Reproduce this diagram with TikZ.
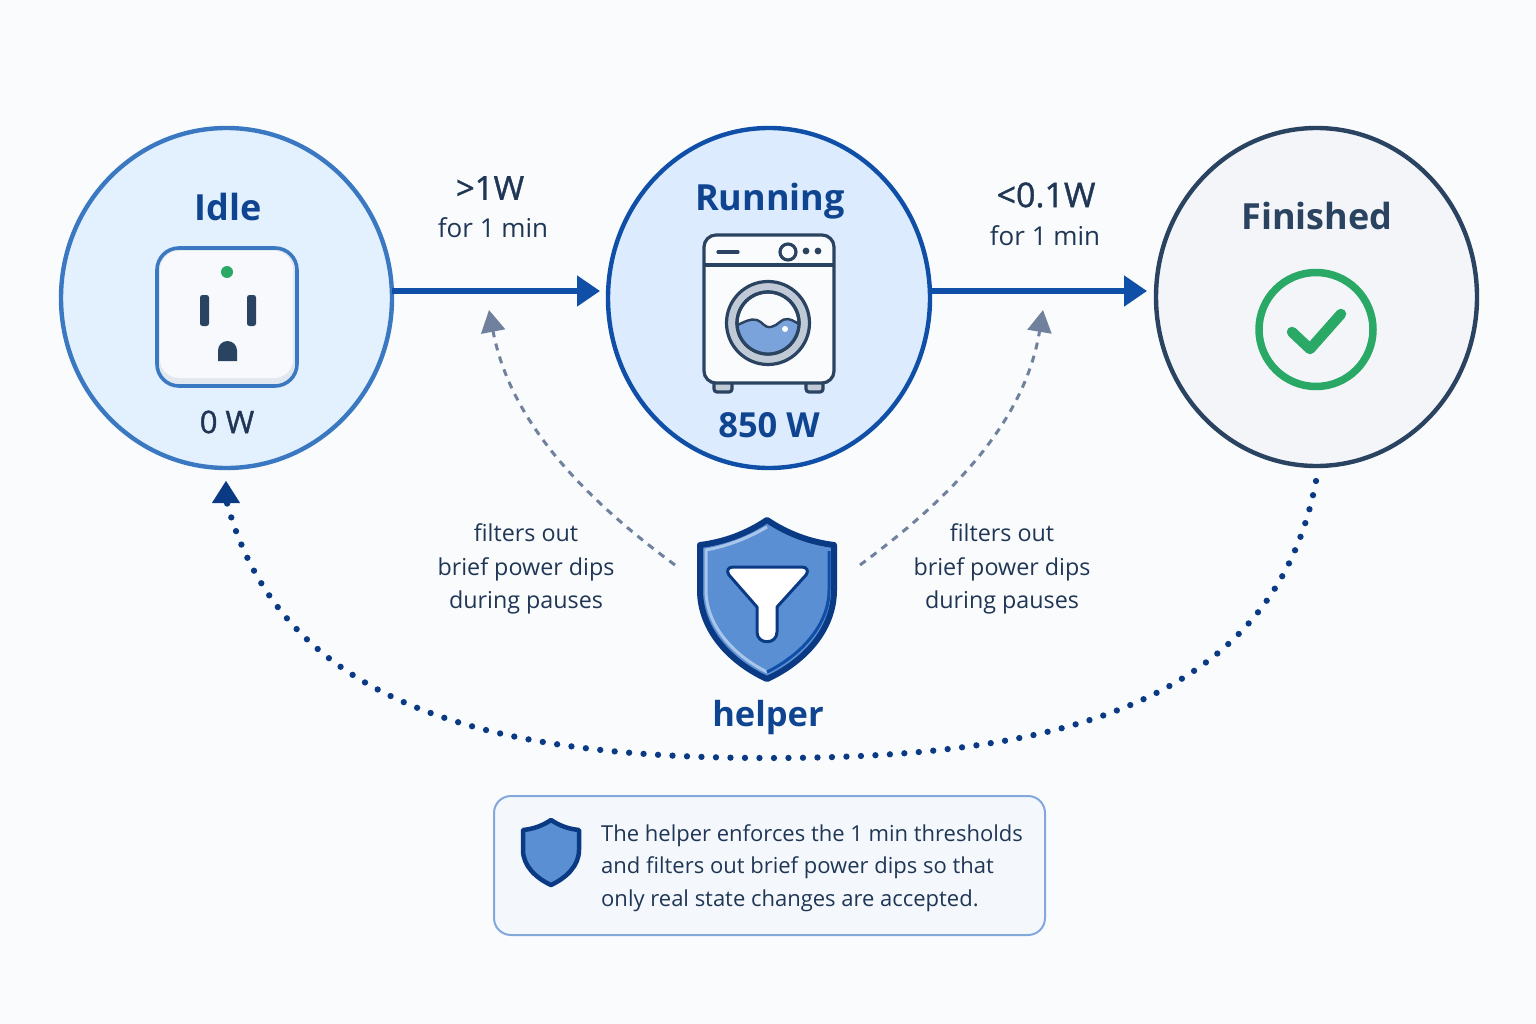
\documentclass[tikz,border=0pt]{standalone}
\usepackage{fontspec}
\setmainfont{Open Sans}
\newfontfamily\medfont{Open Sans}[FakeBold=1.2]
\usetikzlibrary{arrows.meta,shapes.geometric}
\definecolor{bg}{HTML}{FAFBFD}
\definecolor{navy}{HTML}{0F4590}
\definecolor{deep}{HTML}{0B3A85}
\definecolor{flow}{HTML}{0F4FA8}
\definecolor{slate}{HTML}{2A4360}
\definecolor{ink}{HTML}{1F3655}
\definecolor{mid}{HTML}{3B78C2}
\definecolor{grey}{HTML}{6F819C}
\definecolor{shieldfill}{HTML}{5A8FD3}
\definecolor{shieldlight}{HTML}{A9C6EA}
\definecolor{okgreen}{HTML}{2AA866}
\definecolor{idlefill}{HTML}{E3F0FE}
\definecolor{runfill}{HTML}{DCEBFD}
\definecolor{finfill}{HTML}{F3F5F9}
\definecolor{plugshade}{HTML}{E2E8F0}
\definecolor{plugface}{HTML}{F7F9FC}
\definecolor{ringgrey}{HTML}{C0CAD6}
\definecolor{machine}{HTML}{FAFBFD}
\definecolor{water}{HTML}{7AA3DB}
\definecolor{notefill}{HTML}{F4F7FC}
\definecolor{noteline}{HTML}{83A8DC}
\tikzset{
  state/.style={ellipse,draw,line width=4.4pt,outer sep=0pt,inner sep=0pt},
  flowarrow/.style={line width=5pt,draw=flow,-{Triangle[length=23pt,width=30pt]},shorten >=8pt},
  dip/.style={line width=3pt,draw=grey,dash pattern=on 7pt off 6.5pt,-{Triangle[length=22pt,width=24pt]}},
  loopback/.style={line width=6.3pt,draw=deep,line cap=round,dash pattern=on 0pt off 14.5pt},
  lab/.style={text=ink,font=\fontsize{23.3}{33.5}\selectfont,align=center,inner sep=0pt},
  head/.style={font=\bfseries\fontsize{36}{40}\selectfont,inner sep=0pt},
  icon/.style={line width=3.2pt,draw=slate,line join=round}
}
\begin{document}
\begin{tikzpicture}[x=1pt,y=-1pt]
\useasboundingbox (0,0) rectangle (1536,1024);
\fill[bg] (0,0) rectangle (1536,1024);

% states
\node[state,draw=mid,fill=idlefill,minimum width=331pt,minimum height=340pt] (idle) at (226.5,298) {};
\node[state,draw=flow,fill=runfill,minimum width=322pt,minimum height=340pt] (running) at (769,298) {};
\node[state,draw=slate,fill=finfill,minimum width=321pt,minimum height=338pt] (finished) at (1316.5,297) {};

% flow arrows
\coordinate (level) at (0,291);
\draw[flowarrow] (idle.east |- level) -- (running.west |- level);
\draw[flowarrow,shorten >=9pt] (running.east |- level) -- (finished.west |- level);

% plug
\draw[mid,line width=3.6pt,fill=plugshade,rounded corners=22pt] (157,248) rectangle (297,386);
\fill[plugface,rounded corners=19pt] (160,251) rectangle (293,378);
\fill[okgreen] (227,272) circle (6);
\fill[slate,rounded corners=2.5pt] (200,295) rectangle (209,326);
\fill[slate,rounded corners=2.5pt] (247,295) rectangle (256,326);
\fill[slate] (218,361) -- (218,350.5) arc[start angle=180,end angle=360,radius=9.5] -- (237,361) -- cycle;

% washer
\draw[icon,fill=ringgrey,rounded corners=3pt] (714,380) rectangle (732,392);
\draw[icon,fill=ringgrey,rounded corners=3pt] (806,380) rectangle (823,392);
\draw[icon,fill=machine,rounded corners=12pt] (704,235) rectangle (834,383);
\draw[icon] (704,265) -- (834,265);
\draw[icon,line cap=round] (718,252) -- (738,252);
\draw[icon,fill=machine] (788,252) circle (8);
\fill[slate] (806,251) circle (3.4);
\fill[slate] (818,251) circle (3.4);
\draw[icon,fill=ringgrey] (768,323) circle (41.5);
\draw[icon,fill=machine] (768,323) circle (31);
\begin{scope}
\clip (768,323) circle (30);
\fill[water] (735,326) .. controls (745,322) and (750,318) .. (757,320) .. controls (763,322) and (764,328) .. (771,327) .. controls (778,326) and (781,318) .. (788,319) .. controls (794,320) and (797,324) .. (802,325) -- (802,358) -- (735,358) -- cycle;
\draw[slate,line width=2.4pt] (735,326) .. controls (745,322) and (750,318) .. (757,320) .. controls (763,322) and (764,328) .. (771,327) .. controls (778,326) and (781,318) .. (788,319) .. controls (794,320) and (797,324) .. (802,325);
\end{scope}
\draw[icon] (768,323) circle (31);
\fill[white] (785,329) circle (3);

% check
\draw[okgreen,line width=7.5pt] (1316,329.5) circle (57);
\draw[okgreen,line width=10.5pt,line cap=round,line join=round] (1292,332) -- (1310,349) -- (1341,314);

% helper shield
\node[inner sep=0pt,outer sep=0pt,minimum width=140pt,minimum height=164pt] (shield) at (767,600) {};
\draw[deep,line width=6pt,line join=round,fill=shieldfill] (767,520) .. controls (746,534) and (724,542) .. (700,545) -- (700,590) .. controls (700,630) and (730,662) .. (767,679) .. controls (804,662) and (834,630) .. (834,590) -- (834,545) .. controls (810,542) and (788,534) .. (767,520) -- cycle;
\draw[shieldlight,line width=3pt] (767,527) .. controls (748,538) and (728,546) .. (706,550) -- (706,590) .. controls (706,625) and (733,655) .. (767,672);
\draw[flow,line width=3pt] (767,672) .. controls (801,655) and (829,625) .. (829,590) -- (829,551);
\draw[deep,line width=3pt,fill=white,line join=round] (733,567) -- (802,567) .. controls (807,567) and (809,571) .. (806,575) -- (777,607) -- (777,632) .. controls (777,645) and (757,645) .. (757,632) -- (757,607) -- (729,575) .. controls (726,571) and (728,567) .. (733,567) -- cycle;

% dashed arrows
\coordinate (dipL) at (675,565);
\coordinate (tipL) at (489,310);
\coordinate (dipR) at (860,565);
\coordinate (tipR) at (1043,310);
\draw[dip] (dipL) .. controls (580,495) and (510,420) .. (tipL);
\draw[dip] (dipR) .. controls (955,495) and (1025,420) .. (tipR);

% loop back
\coordinate (loopStart) at (1316,481);
\coordinate (loopEnd) at (227,503);
\coordinate (loopTip) at (226,481);
\coordinate (loopBase) at (226,503);
\draw[loopback] (loopStart) .. controls (1272,712) and (1040,758) .. (770,758) .. controls (510,758) and (285,715) .. (loopEnd);
\draw[deep,line width=0.1pt,{Triangle[length=22pt,width=28pt]}-] (loopTip) -- (loopBase);

% box
\draw[line width=2pt,draw=noteline,fill=notefill,rounded corners=17pt] (494,796) rectangle (1045,935);
\draw[deep,line width=4.5pt,line join=round,fill=shieldfill] (551,820) .. controls (542,826) and (533,829) .. (523,830) -- (523,850) .. controls (523,866) and (536,878) .. (551,885) .. controls (566,878) and (579,866) .. (579,850) -- (579,830) .. controls (569,829) and (560,826) .. (551,820) -- cycle;

% texts
\node[head,text=navy] (tIdle) at (228,207) {Idle};
\node[head,text=navy] (tRun) at (770,201) {Running};
\node[head,text=slate] (tFin) at (1317,216) {Finished};
\node[lab,font=\medfont\fontsize{31}{36}\selectfont] (tZero) at (227,422) {0 W};
\node[lab,text=navy,font=\bfseries\fontsize{34.5}{38}\selectfont] (tWatt) at (769,425) {850 W};
\node[lab,font=\medfont\fontsize{33}{36}\selectfont] (tA) at (490,188) {>1W};
\node[lab,font=\fontsize{26}{30}\selectfont] (tAb) at (493,228) {for 1 min};
\node[lab,font=\medfont\fontsize{34}{36}\selectfont] (tB) at (1046,195) {<0.1W};
\node[lab,font=\fontsize{26}{30}\selectfont] (tBb) at (1045,236) {for 1 min};
\node[lab] (fL) at (526,569) {filters out\\brief power dips\\during pauses};
\node[lab] (fR) at (1002,569) {filters out\\brief power dips\\during pauses};
\node[head,font=\bfseries\fontsize{34.5}{40}\selectfont,text=navy] (tHelp) at (768,718) {helper};
\node[lab,align=left,anchor=west,font=\fontsize{22}{32.5}\selectfont] (tNote) at (601,868) {The helper enforces the 1 min thresholds\\and filters out brief power dips so that\\only real state changes are accepted.};
\end{tikzpicture}
\end{document}
